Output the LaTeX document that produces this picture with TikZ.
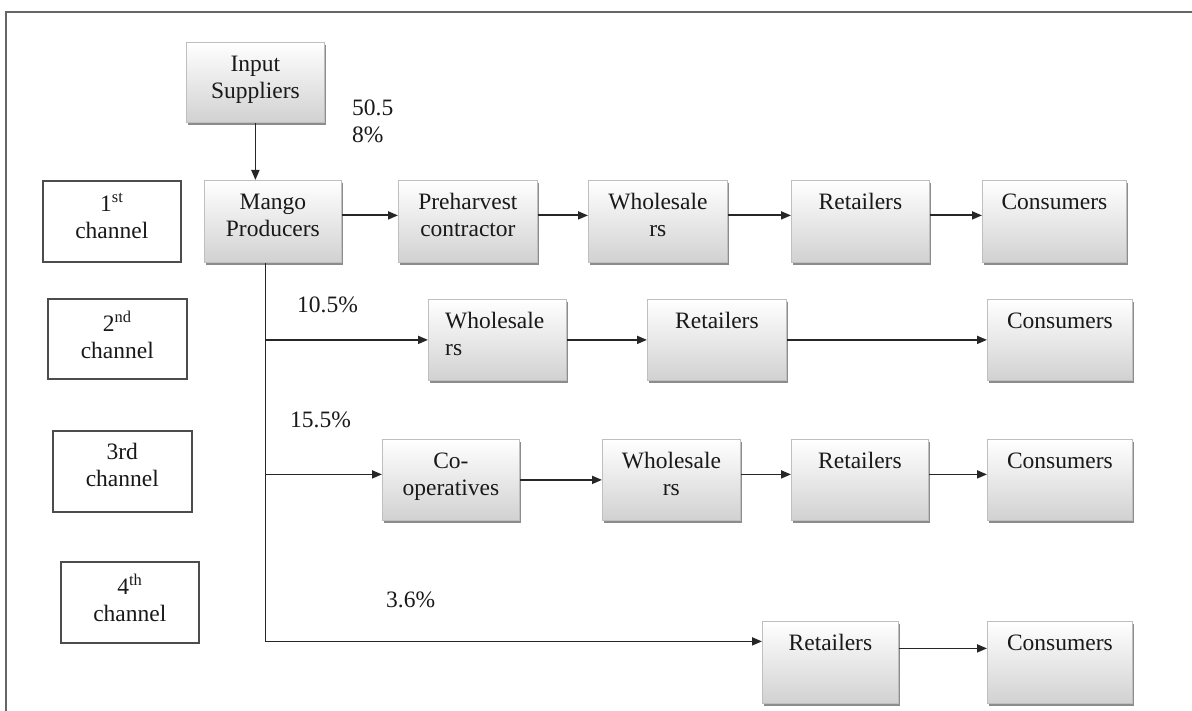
\documentclass[tikz,border=0pt]{standalone}
\usepackage{fontspec}
\setmainfont{Liberation Serif}
\usetikzlibrary{arrows.meta,shadows}
\newcommand\fl{\rule{0pt}{16pt}}
\newcommand\fsz{\fontsize{23.5}{27}\selectfont}
\tikzset{
  gbox/.style={rectangle, draw=black!25, line width=0.8pt, top color=white, bottom color=black!18,
    drop shadow={shadow xshift=1.8pt, shadow yshift=-2.8pt, fill=black!45, opacity=1}, inner sep=0pt},
  cbox/.style={rectangle, draw=black!70, line width=1.6pt, fill=white, inner sep=0pt},
  lbl/.style={font=\fsz, text=black!90, align=center, inner sep=0pt},
  arr/.style={draw=black!85, line width=1.8pt, -{Triangle[length=10pt,width=8pt]}},
  framel/.style={draw=black!60, line width=2.2pt},
}
\newcommand\gbx[6]{%
  \node[gbox, minimum width={#4-#2}, minimum height={#5-#3}, anchor=north west] (#1) at (#2,#3) {};
  \node[lbl, anchor=north] (#1-t) at ([yshift=-13pt]#1.north) {\fl #6};}
\newcommand\cbx[6]{%
  \node[cbox, minimum width={#4-#2}, minimum height={#5-#3}, anchor=north west] (#1) at (#2,#3) {};
  \node[lbl, anchor=north] (#1-t) at ([yshift=-13pt]#1.north) {\fl #6};}
\begin{document}
\begin{tikzpicture}[x=1pt,y=-1pt]
\useasboundingbox (0,0) rectangle (1192,711);
\draw[framel] (6,711) -- (6,12) -- (1192,12);
% channel labels
\cbx{ch1}{42}{180}{180}{261}{1\textsuperscript{st}\\channel}
\cbx{ch2}{47}{298}{186}{378}{2\textsuperscript{nd}\\channel}
\cbx{ch3}{52}{430}{191}{511}{3rd\\channel}
\cbx{ch4}{60}{561}{198}{642}{4\textsuperscript{th}\\channel}
% row 0/1
\gbx{is}{186}{42}{324}{122}{Input\\Suppliers}
\gbx{mp}{204}{180}{341}{262}{Mango\\Producers}
\gbx{ph}{398}{180}{537}{262}{Preharvest\\contractor}
\gbx{w1}{588}{180}{727}{262}{Wholesale\\rs}
\gbx{r1}{791}{180}{929}{262}{Retailers}
\gbx{c1}{982}{180}{1126}{262}{Consumers}
% row 2
\node[gbox, minimum width=138, minimum height=81, anchor=north west] (w2) at (428,299) {};
\node[lbl, align=left, anchor=north west] (w2-t) at ([xshift=17pt,yshift=-13pt]w2.north west) {\fl Wholesale\\rs};
\gbx{r2}{647}{299}{786}{380}{Retailers}
\gbx{c2}{987}{299}{1132}{380}{Consumers}
% row 3
\gbx{co}{382}{439}{519}{520}{Co-\\operatives}
\gbx{w3}{602}{439}{740}{520}{Wholesale\\rs}
\gbx{r3}{791}{439}{928}{520}{Retailers}
\gbx{c3}{987}{439}{1132}{520}{Consumers}
% row 4
\gbx{r4}{762}{621}{898}{703}{Retailers}
\gbx{c4}{987}{621}{1132}{703}{Consumers}
% percentages
\node[lbl, align=left, anchor=north west] (p1) at (352,99) {\fl 50.5\\8\%};
\node[lbl, anchor=base west] (p2) at (297,313) {10.5\%};
\node[lbl, anchor=base west] (p3) at (290,428) {15.5\%};
\node[lbl, anchor=base west] (p4) at (386,607) {3.6\%};
% connectors
\draw[arr] (is.south) -- (is.south |- mp.north);
\draw[arr] ([yshift=6pt]mp.east) -- ([yshift=6pt]ph.west);
\draw[arr] ([yshift=6pt]ph.east) -- ([yshift=6pt]w1.west);
\draw[arr] ([yshift=6pt]w1.east) -- ([yshift=6pt]r1.west);
\draw[arr] ([yshift=6pt]r1.east) -- ([yshift=6pt]c1.west);
\coordinate (tr) at ([xshift=-7.5pt]mp.south);
\coordinate (r4in) at ([yshift=21pt]r4.west);
\draw[arr] (tr) |- (r4in);
\draw[arr] (tr |- w2.west) -- (w2.west);
\draw[arr] (w2.east) -- (r2.west);
\draw[arr] (r2.east) -- (c2.west);
\coordinate (coin) at ([yshift=5.5pt]co.west);
\draw[arr] (tr |- coin) -- (coin);
\draw[arr] (co.east) -- (w3.west);
\draw[arr] ([yshift=5.5pt]w3.east) -- ([yshift=5.5pt]r3.west);
\draw[arr] ([yshift=5.5pt]r3.east) -- ([yshift=5.5pt]c3.west);
\draw[arr] ([yshift=14pt]r4.east) -- ([yshift=14pt]c4.west);
\end{tikzpicture}
\end{document}
